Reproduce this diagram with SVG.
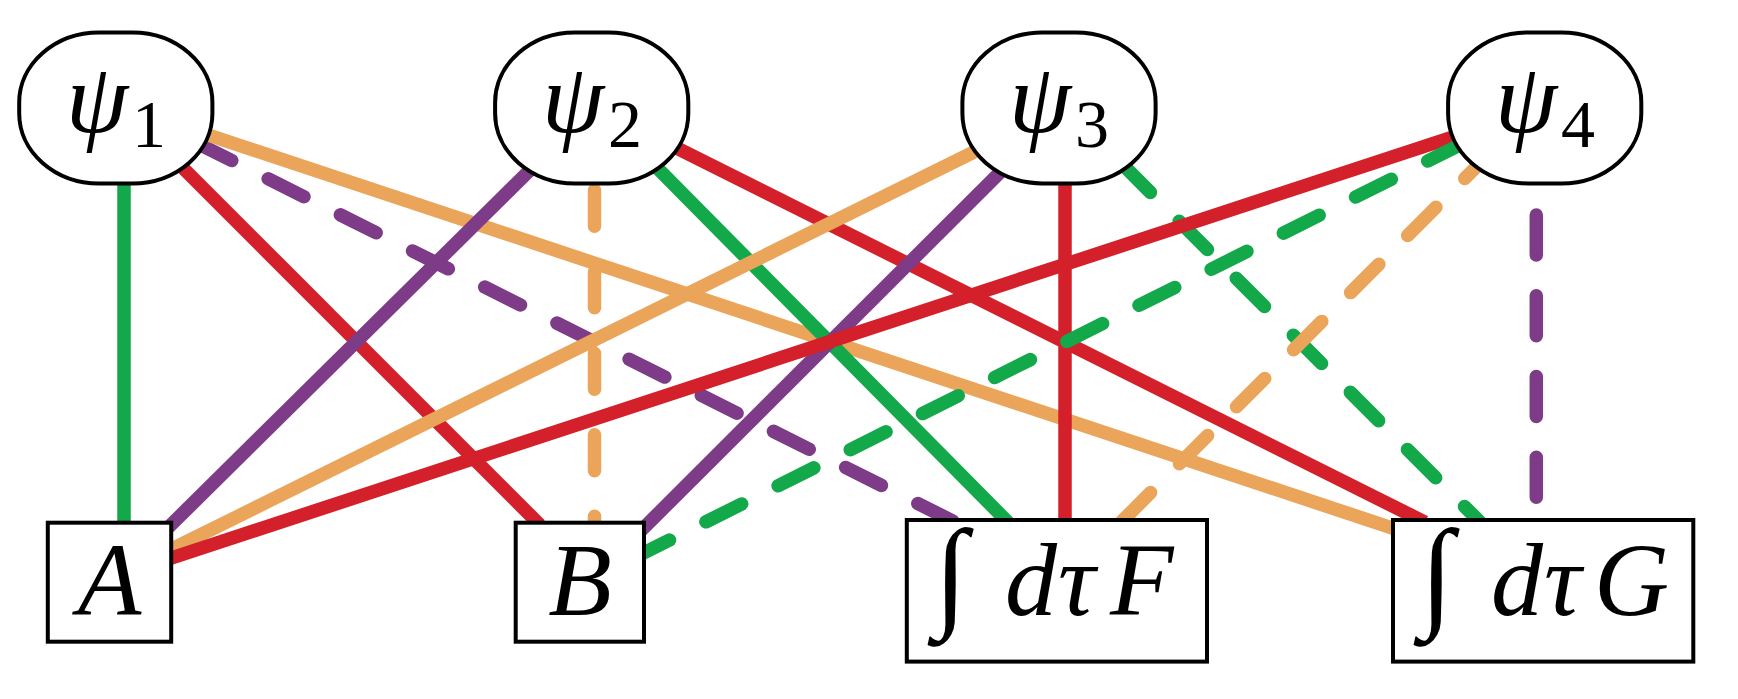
<svg xmlns="http://www.w3.org/2000/svg" width="1738" height="699" viewBox="0 0 1738 699">
<style>
  .c line { stroke-width: 13.5; fill: none; }
  .dash { stroke-linecap: round; stroke-dasharray: 40 40.7; }
  .g { stroke: #13A84A; }
  .r { stroke: #D3202A; }
  .o { stroke: #EBA55A; }
  .p { stroke: #7E3B87; }
  .node { fill: #ffffff; stroke: #000000; stroke-width: 4; }
  .mi { font-family: "Liberation Serif", "DejaVu Serif", serif; font-style: italic; fill: #000; }
  .rm { font-family: "Liberation Serif", "DejaVu Serif", serif; fill: #000; }
</style>
<rect x="0" y="0" width="1738" height="699" fill="#ffffff"/>
<g id="connectors" class="c">
  <line class="g" x1="124" y1="150" x2="124" y2="560"/>
  <line class="r" x1="150" y1="135" x2="540" y2="525"/>
  <line class="p dash" x1="196" y1="142.7" x2="952.7" y2="521"/>
  <line class="o" x1="150" y1="115.6" x2="1400" y2="530.6"/>
  <line class="p" x1="550.3" y1="150" x2="160.7" y2="535"/>
  <line class="o dash" style="stroke-dasharray: 36 45.5" x1="594.5" y1="190.25" x2="594.5" y2="525"/>
  <line class="g" x1="640" y1="150.6" x2="1010.7" y2="525"/>
  <line class="r" x1="650" y1="134.6" x2="1425" y2="522.2"/>
  <line class="o" x1="1000" y1="139.1" x2="165" y2="552.4"/>
  <line class="p" x1="1022.4" y1="150" x2="636.6" y2="535"/>
  <line class="r" x1="1065" y1="150" x2="1065" y2="525"/>
  <line class="g dash" x1="1122.1" y1="164.1" x2="1483" y2="525"/>
  <line class="r" x1="1470" y1="131.3" x2="165" y2="560.1"/>
  <line class="g dash" x1="1463.5" y1="143.1" x2="640" y2="554.8"/>
  <line class="o dash" x1="1493" y1="150.2" x2="1118" y2="525.2"/>
  <line class="p dash" x1="1536.3" y1="134.4" x2="1536.3" y2="518"/>
</g>
<g id="psi1">
  <rect class="node" x="19.2" y="32.4" width="193.2" height="151" rx="80" ry="70"/>
  <text class="mi" x="66" y="132" font-size="100">ψ</text>
  <text class="rm" x="132" y="147" font-size="68">1</text>
</g>
<g id="psi2">
  <rect class="node" x="495.1" y="32.4" width="193.2" height="151" rx="80" ry="70"/>
  <text class="mi" x="542" y="132" font-size="100">ψ</text>
  <text class="rm" x="608" y="147" font-size="68">2</text>
</g>
<g id="psi3">
  <rect class="node" x="962.4" y="32.4" width="193.2" height="151" rx="80" ry="70"/>
  <text class="mi" x="1009" y="132" font-size="100">ψ</text>
  <text class="rm" x="1075" y="147" font-size="68">3</text>
</g>
<g id="psi4">
  <rect class="node" x="1448.1" y="32.4" width="193.2" height="151" rx="80" ry="70"/>
  <text class="mi" x="1495" y="132" font-size="100">ψ</text>
  <text class="rm" x="1561" y="147" font-size="68">4</text>
</g>
<g id="A">
  <rect class="node" x="47.8" y="522.7" width="123.4" height="119"/>
  <text class="mi" x="109.5" y="615" font-size="104" text-anchor="middle">A</text>
</g>
<g id="B">
  <rect class="node" x="515.7" y="522.7" width="128.3" height="119"/>
  <text class="mi" x="580" y="615" font-size="104" text-anchor="middle">B</text>
</g>
<g id="F">
  <rect class="node" x="906.8" y="520" width="300.2" height="141.6"/>
  <text class="rm" x="934" y="614" font-size="122">∫</text>
  <text class="mi" x="1005" y="615" font-size="104">d</text>
  <text class="mi" x="1058" y="615" font-size="104">τ</text>
  <text class="mi" x="1110" y="615" font-size="104">F</text>
</g>
<g id="G">
  <rect class="node" x="1393" y="520" width="300.3" height="141.6"/>
  <text class="rm" x="1420" y="614" font-size="122">∫</text>
  <text class="mi" x="1491" y="615" font-size="104">d</text>
  <text class="mi" x="1544" y="615" font-size="104">τ</text>
  <text class="mi" x="1594" y="615" font-size="104">G</text>
</g>
</svg>
